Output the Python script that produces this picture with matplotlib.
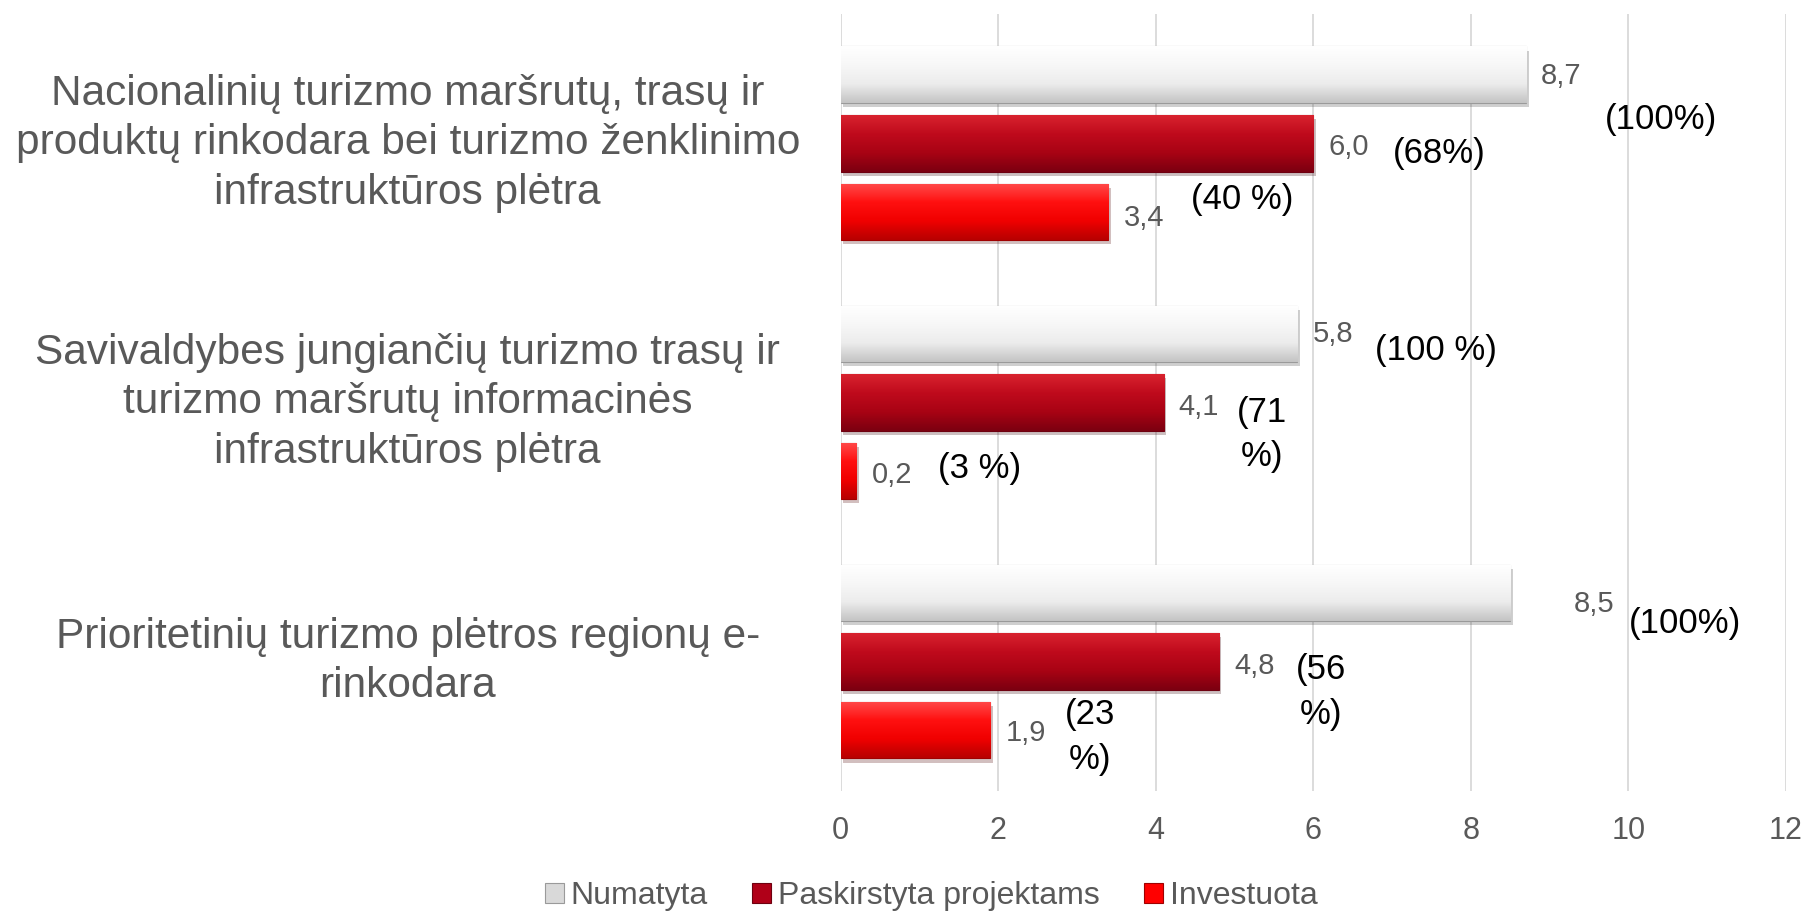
import numpy as np
import matplotlib
matplotlib.use("Agg")
import matplotlib.pyplot as plt
import matplotlib.transforms as mtransforms
from matplotlib.colors import LinearSegmentedColormap
from matplotlib.patches import Patch
import matplotlib.patheffects as pe

plt.rcParams['font.family'] = ['Liberation Sans', 'DejaVu Sans']

categories = [
    "Nacionalinių turizmo maršrutų, trasų ir\nproduktų rinkodara bei turizmo ženklinimo\ninfrastruktūros plėtra",
    "Savivaldybes jungiančių turizmo trasų ir\nturizmo maršrutų informacinės\ninfrastruktūros plėtra",
    "Prioritetinių turizmo plėtros regionų e-\nrinkodara",
]
series_names = ["Numatyta", "Paskirstyta projektams", "Investuota"]
numatyta = [8.7, 5.8, 8.5]
paskirstyta = [6.0, 4.1, 4.8]
investuota = [3.4, 0.2, 1.9]
pct_numatyta = ["(100%)", "(100 %)", "(100%)"]
pct_paskirstyta = ["(68%)", "(71\n%)", "(56\n%)"]
pct_investuota = ["(40 %)", "(3 %)", "(23\n%)"]
xticks = [0, 2, 4, 6, 8, 10, 12]

values = [numatyta, paskirstyta, investuota]
pcts = [pct_numatyta, pct_paskirstyta, pct_investuota]

# gradient stops (top -> bottom) per series
grads = [
    ["#ffffff", "#f7f7f7", "#ececec", "#c4c4c4"],
    ["#d8222e", "#bf0a1c", "#a80314", "#7c0010"],
    ["#ff4a4a", "#ff1010", "#f00000", "#b80000"],
]
legend_cols = ["#d9d9d9", "#b00018", "#ff0000"]
edge_cols = ["#9a9a9a", "#6e0010", "#a00000"]

# label offsets in points (layout only)
val_dx = [[11, 11, 46], [11, 11, 11], [11, 11, 11]]
val_dy = [[-1, 0, -8], [-2.5, -3, -3], [-4, -2.5, -2]]
pct_dx = [[97, 100, 126], [91, 71, 74], [96, 89, 72]]
pct_dy = [[-32, -12, -22], [-7, -23, -22], [9, 2, -5]]

fig = plt.figure(figsize=(18.08, 9.11), dpi=100)
ax = fig.add_axes([0.4649, 0.1317, 0.5229, 0.8531])

y = np.arange(len(categories))
h = 0.218
offs = [-0.265, 0.0, 0.265]

ax.set_xlim(0, 12)
ax.set_ylim(2.5, -0.5)

for s in range(3):
    bars = ax.barh(y + offs[s], values[s], height=h, color=legend_cols[s],
                   edgecolor=edge_cols[s], linewidth=0.8, zorder=3)
    cmap = LinearSegmentedColormap.from_list("g%d" % s, grads[s])
    for i, p in enumerate(bars):
        p.set_path_effects([pe.SimplePatchShadow(offset=(2, -3), alpha=0.25), pe.Normal()])
        x0, y0 = p.get_x(), p.get_y()
        w, hh = p.get_width(), p.get_height()
        grad = np.linspace(0, 1, 64).reshape(-1, 1)
        im = ax.imshow(grad, cmap=cmap, aspect='auto', extent=(x0, x0 + w, y0 + hh, y0),
                       origin='upper', zorder=3.5, interpolation='bilinear')
        im.set_clip_path(p)
        ax.annotate(f"{values[s][i]:.1f}".replace(".", ","),
                    xy=(x0 + w, y0 + hh / 2), xytext=(val_dx[s][i], val_dy[s][i]),
                    textcoords='offset points', ha='left', va='center',
                    fontsize=21, color='#595959', zorder=5)
        ax.annotate(pcts[s][i], xy=(x0 + w, y0 + hh / 2),
                    xytext=(pct_dx[s][i], pct_dy[s][i]), textcoords='offset points',
                    ha='center', va='center', multialignment='center',
                    fontsize=25, color='black', linespacing=1.45, zorder=5)

ax.set_xticks(xticks)
ax.set_xticklabels([str(t) for t in xticks], fontsize=22, color='#595959')
ax.set_yticks([])
ax.tick_params(axis='x', length=0, pad=18)
ax.grid(axis='x', color='#d9d9d9', linewidth=1.3, zorder=0)
ax.set_axisbelow(True)
for sp in ax.spines.values():
    sp.set_visible(False)

trans = mtransforms.blended_transform_factory(fig.transFigure, ax.transData)
for i, c in enumerate(categories):
    ax.text(0.2255, y[i], c, transform=trans, ha='center', va='center',
            multialignment='center', fontsize=30.5, color='#595959', linespacing=1.3)

handles = [Patch(facecolor=legend_cols[k], edgecolor=edge_cols[k], linewidth=0.8)
           for k in range(3)]
fig.legend(handles, series_names, loc='center', bbox_to_anchor=(0.515, 0.0165),
           ncol=3, frameon=False, fontsize=23, labelcolor='#595959',
           handlelength=0.6, handleheight=0.6, handletextpad=0.2, columnspacing=1.4)

fig.savefig("out.png", dpi=100)
